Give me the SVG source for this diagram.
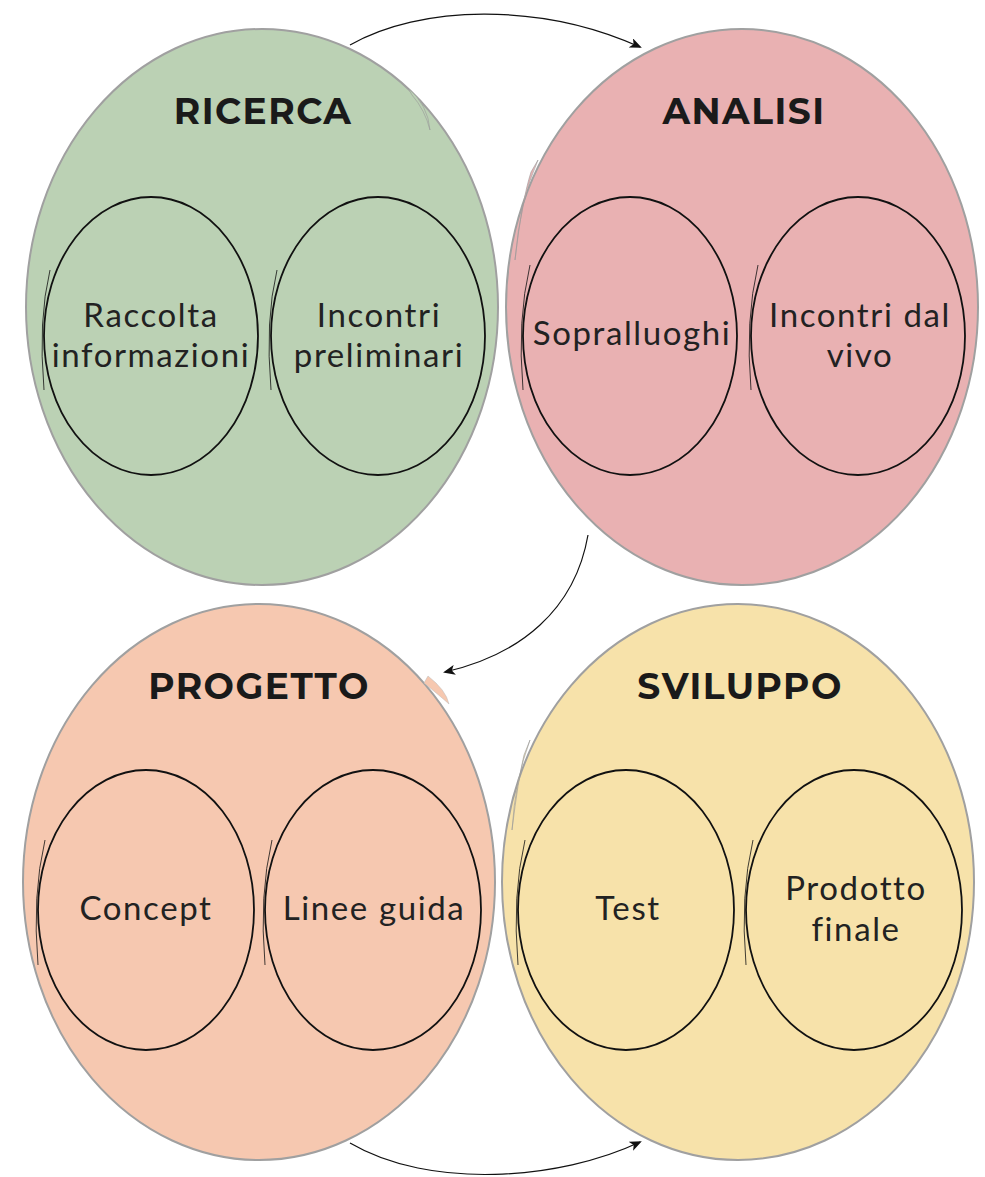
<svg xmlns="http://www.w3.org/2000/svg" width="985" height="1177" viewBox="0 0 985 1177">
<defs>
<style>
.big{stroke:#a0a0a0;stroke-width:2}
.in{fill:none;stroke:#111;stroke-width:1.8}
.sk{fill:none;stroke:#111;stroke-width:0.8}
.t{font-family:"Montserrat","Lato","Liberation Sans",sans-serif;font-weight:700;font-size:36px;letter-spacing:1.5px;fill:#1a1a1a;text-anchor:middle}
.b{font-family:"Lato","Liberation Sans",sans-serif;font-weight:400;font-size:33px;letter-spacing:1.6px;fill:#222;text-anchor:middle}
.c{fill:none;stroke:#111;stroke-width:1.2}
</style>
<marker id="ah" markerWidth="12" markerHeight="10" refX="10" refY="5" orient="auto" markerUnits="userSpaceOnUse">
<path d="M0,0 L12,5 L0,10 L3,5 Z" fill="#111"/>
</marker>
</defs>
<rect width="985" height="1177" fill="#fff"/>
<g id="connectors">
<path class="c" d="M350,45 C420,5 540,2 640,47" marker-end="url(#ah)"/>
<path class="c" d="M588,535 C575,610 520,655 445,672" marker-end="url(#ah)"/>
<path class="c" d="M350,1143 C430,1190 560,1180 640,1142" marker-end="url(#ah)"/>
</g>
<g id="ricerca">
<ellipse class="big" cx="262" cy="307" rx="236" ry="278" fill="#bbd1b4"/>
<path d="M408,88 Q428,105 430,130 Q425,110 412,95 Z" fill="#bbd1b4" stroke="#999" stroke-width="0.6"/>
<text class="t" x="263" y="124">RICERCA</text>
</g>
<g id="analisi">
<ellipse class="big" cx="742" cy="307" rx="236" ry="278" fill="#e9b1b2"/>
<path d="M538,160 Q520,200 515,260 Q522,200 531,172 Z" fill="#e9b1b2" stroke="#999" stroke-width="0.6"/>
<text class="t" x="744" y="124">ANALISI</text>
</g>
<g id="progetto">
<ellipse class="big" cx="259" cy="882" rx="236" ry="278" fill="#f6c8b0"/>
<path d="M428,676 Q446,690 449,704 Q440,696 424,683 Z" fill="#f6c8b0" stroke="#bbb" stroke-width="0.5"/>
<text class="t" x="259" y="699">PROGETTO</text>
</g>
<g id="sviluppo">
<ellipse class="big" cx="738" cy="882" rx="236" ry="278" fill="#f7e2aa"/>
<path d="M530,740 Q515,780 512,830 Q518,780 524,755 Z" fill="#f7e2aa" stroke="#999" stroke-width="0.6"/>
<text class="t" x="740" y="699">SVILUPPO</text>
</g>
<g id="raccolta">
<ellipse class="in" cx="151" cy="336" rx="107" ry="139"/>
<path class="sk" d="M50,270 Q38,320 44,390"/>
<text class="b" x="151" y="327">Raccolta</text>
<text class="b" x="151" y="367">informazioni</text>
</g>
<g id="incontri-preliminari">
<ellipse class="in" cx="378" cy="336" rx="107" ry="139"/>
<path class="sk" d="M277,270 Q265,320 271,390"/>
<text class="b" x="379" y="327">Incontri</text>
<text class="b" x="379" y="367">preliminari</text>
</g>
<g id="sopralluoghi">
<ellipse class="in" cx="630" cy="336" rx="107" ry="139"/>
<path class="sk" d="M530,265 Q517,320 523,390"/>
<text class="b" x="632" y="345">Sopralluoghi</text>
</g>
<g id="incontri-dal-vivo">
<ellipse class="in" cx="858" cy="336" rx="107" ry="139"/>
<path class="sk" d="M758,265 Q745,320 751,390"/>
<text class="b" x="860" y="327">Incontri dal</text>
<text class="b" x="860" y="367">vivo</text>
</g>
<g id="concept">
<ellipse class="in" cx="146" cy="910" rx="108" ry="140"/>
<path class="sk" d="M45,840 Q32,895 38,965"/>
<text class="b" x="146" y="920">Concept</text>
</g>
<g id="linee-guida">
<ellipse class="in" cx="373" cy="910" rx="108" ry="140"/>
<path class="sk" d="M272,840 Q259,895 265,965"/>
<text class="b" x="374" y="920">Linee guida</text>
</g>
<g id="test">
<ellipse class="in" cx="626" cy="910" rx="108" ry="140"/>
<path class="sk" d="M525,840 Q512,895 518,965"/>
<text class="b" x="628" y="920">Test</text>
</g>
<g id="prodotto-finale">
<ellipse class="in" cx="854" cy="910" rx="108" ry="140"/>
<path class="sk" d="M753,840 Q740,895 746,965"/>
<text class="b" x="856" y="900">Prodotto</text>
<text class="b" x="856" y="941">finale</text>
</g>
</svg>
